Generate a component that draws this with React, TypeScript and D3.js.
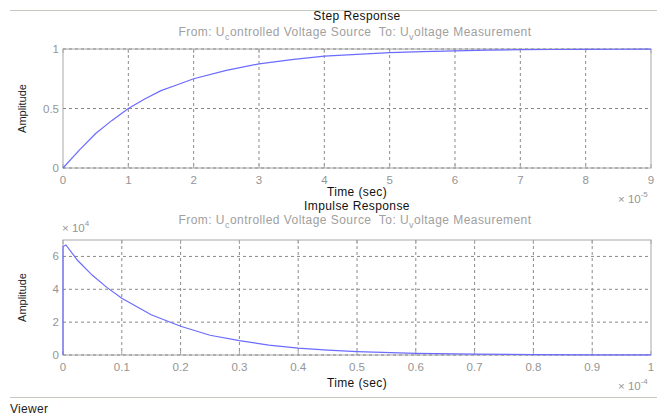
import React from "react";
import * as d3 from "d3";

// Step response (time in 1e-5 s)
const stepTime = [0, 0.25, 0.5, 0.75, 1, 1.25, 1.5, 1.75, 2, 2.5, 3, 3.5, 4, 4.5, 5, 5.5, 6, 6.5, 7, 7.5, 8, 8.5, 9];
const stepAmp = [0, 0.15, 0.29, 0.4, 0.5, 0.58, 0.65, 0.7, 0.75, 0.82, 0.875, 0.91, 0.94, 0.955, 0.97, 0.978, 0.985, 0.99, 0.994, 0.996, 0.997, 0.998, 0.999];
const stepXTicks = [0, 1, 2, 3, 4, 5, 6, 7, 8, 9];
const stepYTicks = [0, 0.5, 1];

// Impulse response (time in 1e-4 s, amplitude in 1e4)
const impTime = [0, 0, 0.005, 0.025, 0.05, 0.075, 0.1, 0.15, 0.2, 0.25, 0.3, 0.35, 0.4, 0.45, 0.5, 0.6, 0.7, 0.8, 0.9, 1];
const impAmp = [0, 6.6, 6.7, 5.75, 4.85, 4.1, 3.45, 2.45, 1.75, 1.2, 0.87, 0.6, 0.42, 0.3, 0.21, 0.1, 0.05, 0.025, 0.012, 0.006];
const impXTicks = [0, 0.1, 0.2, 0.3, 0.4, 0.5, 0.6, 0.7, 0.8, 0.9, 1];
const impYTicks = [0, 2, 4, 6];

const FONT = "'Liberation Sans', Arial, sans-serif";
const GREY = "#959595";
const LINE = "#6b6bff";

type PanelProps = {
  top: number;
  height: number;
  xDomain: [number, number];
  yDomain: [number, number];
  xTicks: number[];
  yTicks: number[];
  xs: number[];
  ys: number[];
  xExp: string;
  yExp?: string;
};

function Subtitle({ y }: { y: number }) {
  return (
    <text x={355} y={y} textAnchor="middle" fontSize={12} letterSpacing={0.45} fill="#a0a0a0" fontFamily={FONT} xmlSpace="preserve">
      From: U
      <tspan fontSize={9} dy={4}>c</tspan>
      <tspan dy={-4}>{"ontrolled Voltage Source\u00a0 To: U"}</tspan>
      <tspan fontSize={9} dy={4}>v</tspan>
      <tspan dy={-4}>oltage Measurement</tspan>
    </text>
  );
}

function Panel(p: PanelProps) {
  const left = 63;
  const right = 651;
  const x = d3.scaleLinear().domain(p.xDomain).range([left, right]);
  const y = d3.scaleLinear().domain(p.yDomain).range([p.top + p.height, p.top]);
  const line = d3
    .line<number>()
    .x((_, i) => x(p.xs[i]))
    .y((d) => y(d));
  const bottom = p.top + p.height;
  return (
    <g>
      <rect x={left} y={p.top} width={right - left} height={p.height} fill="#fff" stroke="#a8a8a8" strokeWidth={1} />
      {p.xTicks.slice(1, -1).map((t) => (
        <line key={"gx" + t} x1={x(t)} x2={x(t)} y1={p.top} y2={bottom} stroke="#8a8a8a" strokeDasharray="3,3" strokeWidth={1} />
      ))}
      {p.yTicks.map((t) => (
        <line key={"gy" + t} x1={left} x2={right} y1={y(t)} y2={y(t)} stroke="#8a8a8a" strokeDasharray="3,3" strokeWidth={1} />
      ))}
      {p.xTicks.map((t) => (
        <g key={"tx" + t}>
          <line x1={x(t)} x2={x(t)} y1={bottom} y2={bottom - 4} stroke="#a8a8a8" />
          <line x1={x(t)} x2={x(t)} y1={p.top} y2={p.top + 4} stroke="#a8a8a8" />
          <text x={x(t)} y={bottom + 16} textAnchor="middle" fontSize={11.5} fill={GREY} fontFamily={FONT}>
            {String(t)}
          </text>
        </g>
      ))}
      {p.yTicks.map((t) => (
        <g key={"ty" + t}>
          <text x={left - 4} y={y(t) + 4} textAnchor="end" fontSize={11.5} fill={GREY} fontFamily={FONT}>
            {String(t)}
          </text>
        </g>
      ))}
      <path d={line(p.ys) || ""} fill="none" stroke={LINE} strokeWidth={1.2} />
      <text
        transform={`translate(26,${p.top + p.height / 2}) rotate(-90)`}
        textAnchor="middle"
        fontSize={11}
        fill="#222"
        fontFamily={FONT}
      >
        Amplitude
      </text>
      <text x={618} y={bottom + 35} fontSize={11.5} fill={GREY} fontFamily={FONT}>
        × 10
        <tspan fontSize={8} dy={-6}>{p.xExp}</tspan>
      </text>
      {p.yExp && (
        <text x={62} y={p.top - 8} fontSize={11.5} fill={GREY} fontFamily={FONT}>
          × 10
          <tspan fontSize={8} dy={-6}>{p.yExp}</tspan>
        </text>
      )}
    </g>
  );
}

export default function App() {
  const titleProps = { textAnchor: "middle" as const, fontSize: 12, letterSpacing: 0.4, fill: "#111", fontFamily: FONT };
  return (
    <svg width={664} height={417} style={{ display: "block", position: "absolute", left: 0, top: 0 }}>
      <rect width={664} height={417} fill="#fff" />
      <line x1={10} x2={657} y1={10.5} y2={10.5} stroke="#c8c8c0" />
      <text x={357} y={20} {...titleProps}>
        Step Response
      </text>
      <Subtitle y={36} />
      <Panel
        top={49}
        height={119}
        xDomain={[0, 9]}
        yDomain={[0, 1]}
        xTicks={stepXTicks}
        yTicks={stepYTicks}
        xs={stepTime}
        ys={stepAmp}
        xExp="-5"
      />
      <text x={357} y={196} {...titleProps}>
        Time (sec)
      </text>
      <text x={357} y={210} {...titleProps}>
        Impulse Response
      </text>
      <Subtitle y={224} />
      <Panel
        top={240}
        height={115}
        xDomain={[0, 1]}
        yDomain={[0, 7]}
        xTicks={impXTicks}
        yTicks={impYTicks}
        xs={impTime}
        ys={impAmp}
        xExp="-4"
        yExp="4"
      />
      <text x={357} y={387} {...titleProps}>
        Time (sec)
      </text>
      <line x1={10} x2={657} y1={397.5} y2={397.5} stroke="#c8c8c0" />
      <text x={10} y={413} fontSize={12} letterSpacing={0.3} fill="#222" fontFamily={FONT}>
        Viewer
      </text>
    </svg>
  );
}
